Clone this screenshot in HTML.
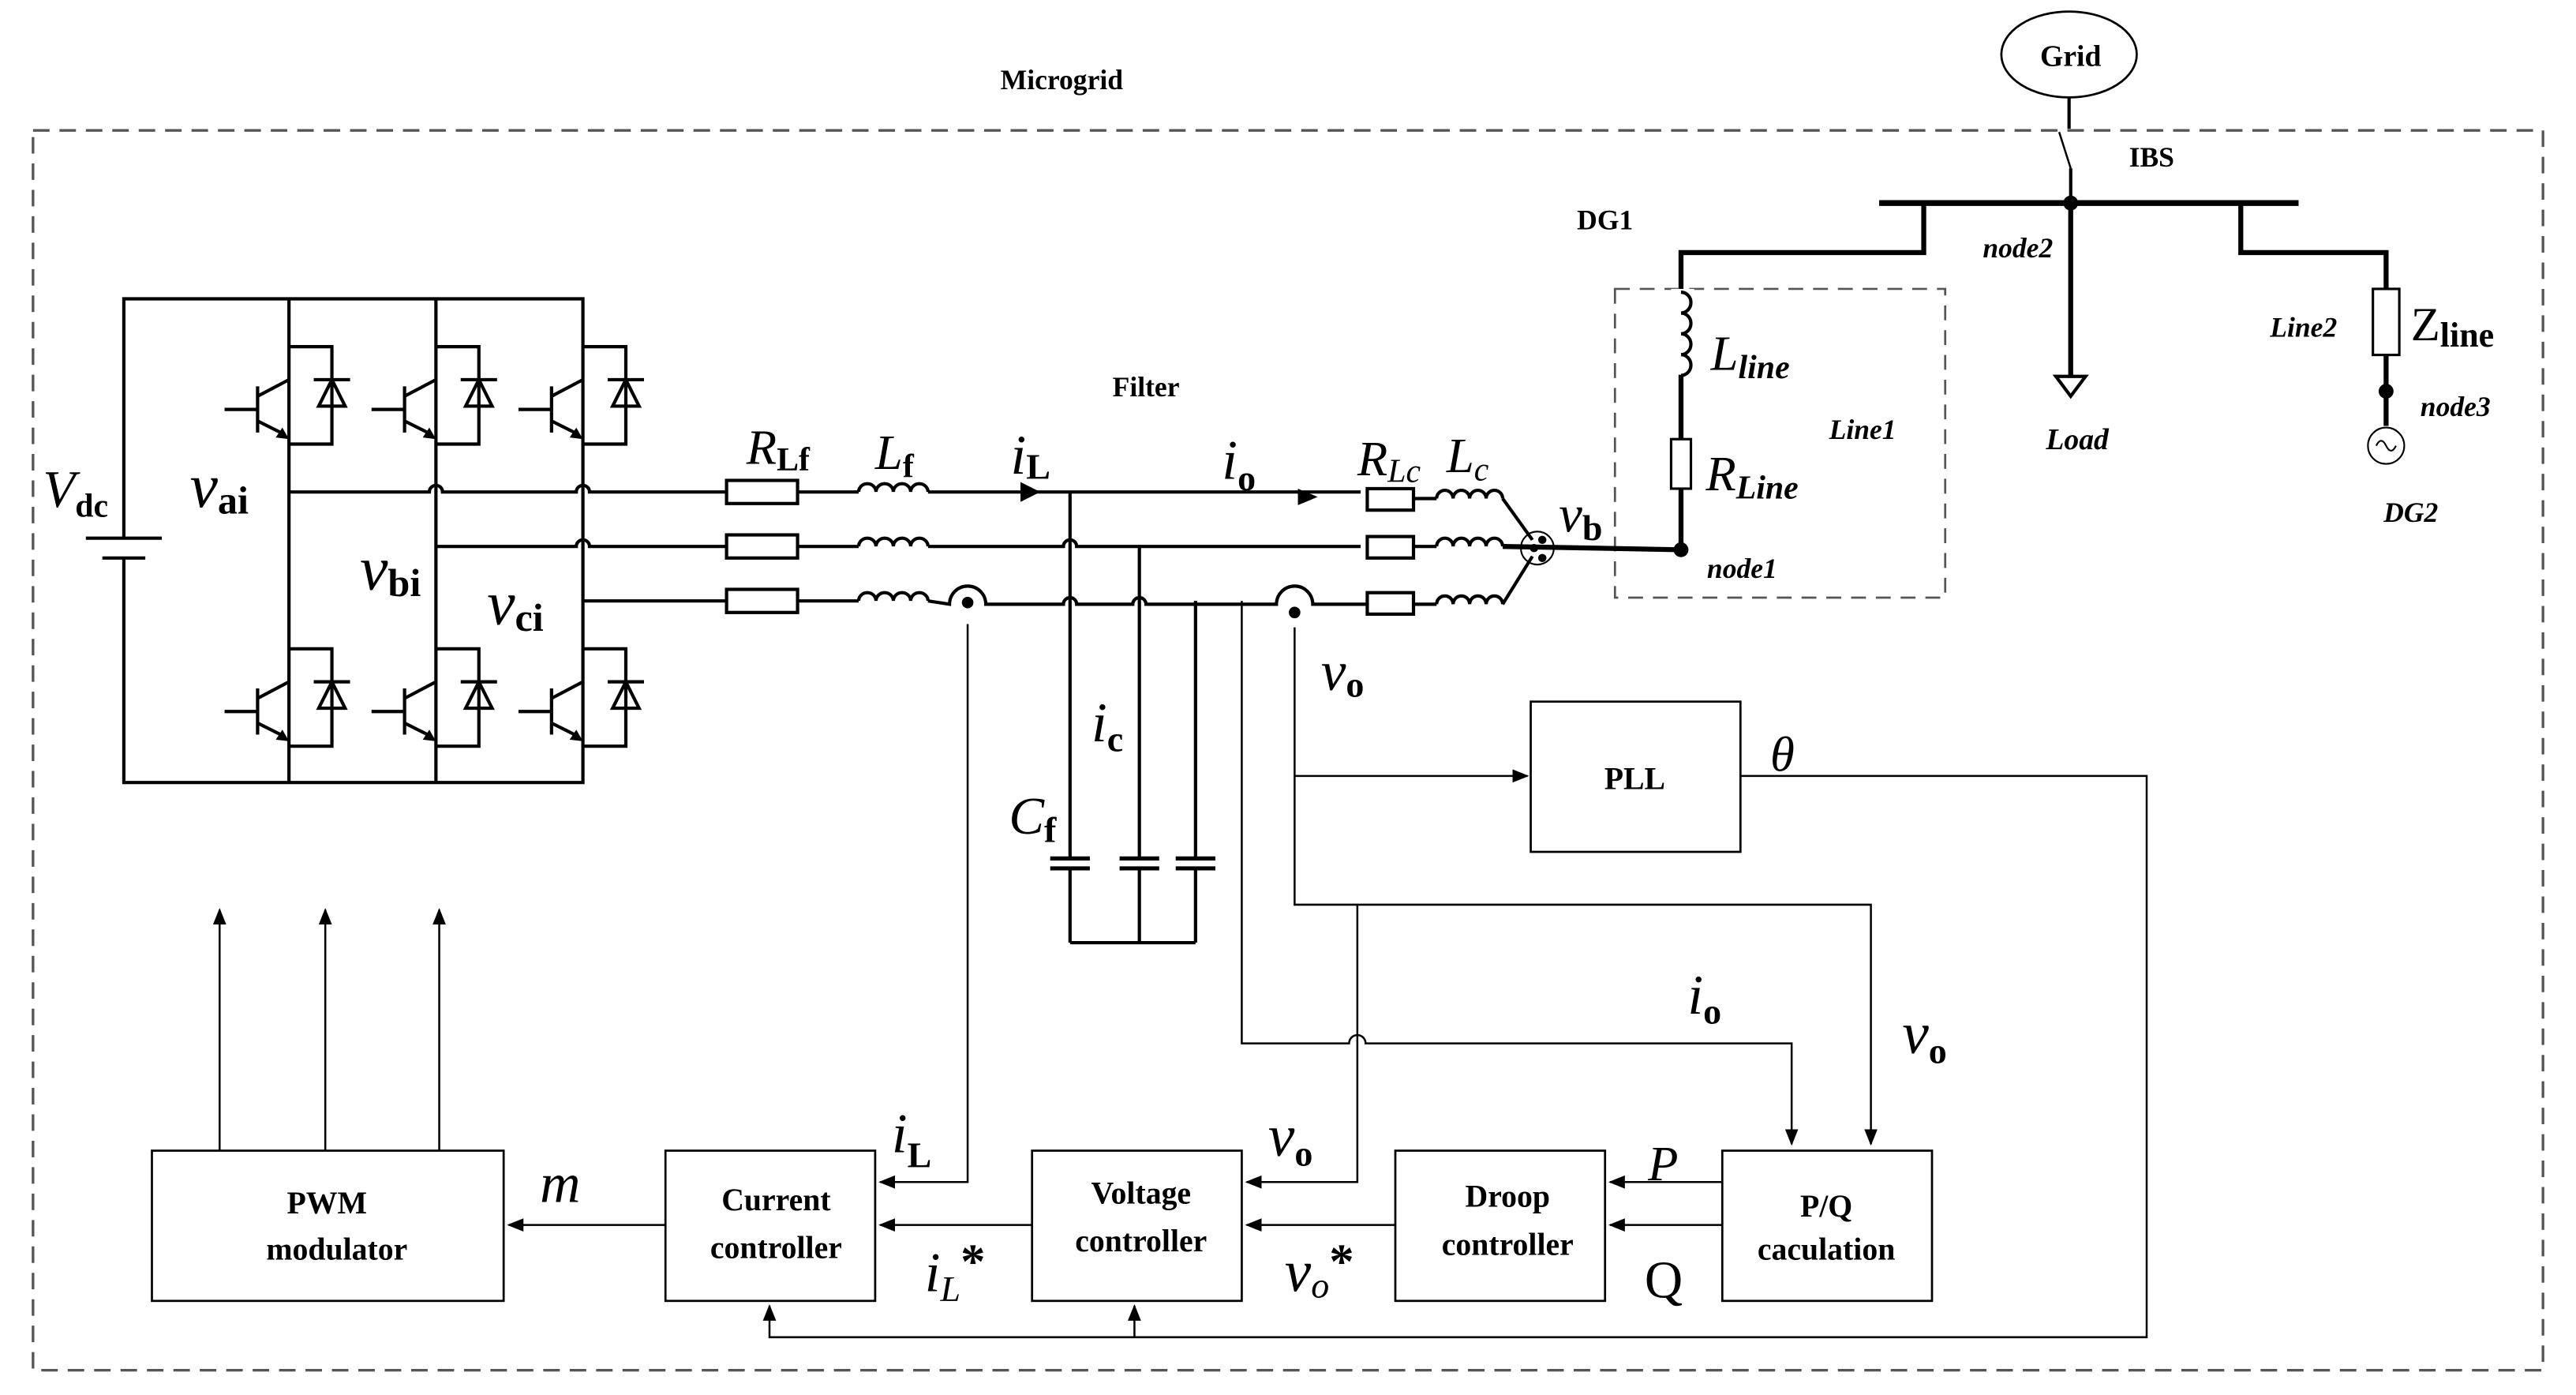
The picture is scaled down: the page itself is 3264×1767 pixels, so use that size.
<!DOCTYPE html>
<html><head><meta charset="utf-8"><style>
html,body{margin:0;padding:0;background:#fff;width:3264px;height:1767px;overflow:hidden}
svg{display:block}
text{font-family:"Liberation Serif",serif;fill:#000}
.b{font-weight:bold}
.i{font-style:italic}
</style></head><body>
<svg width="3264" height="1767" viewBox="0 0 1560 845" preserveAspectRatio="none" xmlns="http://www.w3.org/2000/svg">
<defs>
<marker id="ar" markerWidth="10" markerHeight="8" refX="9" refY="4" orient="auto" markerUnits="userSpaceOnUse"><path d="M0,0 L10,4 L0,8 Z" fill="#000"/></marker>
</defs>
<rect width="1560" height="845" fill="#fff"/>
<!-- outer dashed -->
<rect x="20" y="79" width="1520" height="751" fill="none" stroke="#555" stroke-width="1.6" stroke-dasharray="10,6"/>
<text x="643" y="54" class="b" font-size="17" text-anchor="middle">Microgrid</text>

<!-- Grid -->
<ellipse cx="1253" cy="33" rx="41" ry="26" fill="#fff" stroke="#000" stroke-width="1.3"/>
<text x="1254" y="40" class="b" font-size="18" text-anchor="middle">Grid</text>
<g stroke="#000" stroke-width="2" fill="none">
<line x1="1253" y1="59" x2="1253" y2="78"/>
<line x1="1247" y1="80" x2="1254" y2="102" stroke-width="1.2"/>
<line x1="1254" y1="102" x2="1254" y2="123"/>
<line x1="1138" y1="123" x2="1392" y2="123" stroke-width="3.5"/>
<path d="M1165,123 V153 H1018 V333" stroke-width="3"/>
<path d="M1357,123 V153 H1445 V175" stroke-width="3"/>
<line x1="1254" y1="123" x2="1254" y2="228" stroke-width="3"/>
<path d="M1445,215 V258" stroke-width="3"/>
</g>
<circle cx="1254" cy="123" r="4.5" fill="#000"/>
<path d="M1245,228 L1263,228 L1254,240 Z" fill="#fff" stroke="#000" stroke-width="2"/>
<rect x="1437" y="175" width="16" height="40" fill="#fff" stroke="#000" stroke-width="1.5"/>
<circle cx="1445" cy="237" r="4.5" fill="#000"/>
<circle cx="1445" cy="270" r="11" fill="#fff" stroke="#000" stroke-width="1"/>
<path d="M1439,270 q3,-6 6,0 t6,0" fill="none" stroke="#000" stroke-width="1"/>
<!-- Line1 dashed box -->
<rect x="978" y="175" width="200" height="187" fill="none" stroke="#555" stroke-width="1.3" stroke-dasharray="9,6"/>
<!-- Lline inductor -->
<rect x="1012" y="175" width="14" height="52" fill="#fff" stroke="none"/>
<path d="M1018,177 a6,6.3 0 0 1 0,12.6 a6,6.3 0 0 1 0,12.6 a6,6.3 0 0 1 0,12.6 a6,6.3 0 0 1 0,12.6" fill="none" stroke="#000" stroke-width="2"/>
<rect x="1012" y="266" width="12" height="30" fill="#fff" stroke="#000" stroke-width="1.5"/>
<circle cx="1018" cy="333" r="4.5" fill="#000"/>

<text x="972" y="139" class="b" font-size="17" text-anchor="middle">DG1</text>
<text x="1303" y="101" class="b" font-size="17" text-anchor="middle">IBS</text>
<text x="1222" y="156" class="b i" font-size="17" text-anchor="middle">node2</text>
<text x="1395" y="204" class="b i" font-size="17" text-anchor="middle">Line2</text>
<text x="1460" y="206" font-size="29">Z<tspan font-size="21" dy="4" class="b">line</tspan></text>
<text x="1487" y="252" class="b i" font-size="17" text-anchor="middle">node3</text>
<text x="1460" y="316" class="b i" font-size="17" text-anchor="middle">DG2</text>
<text x="1258" y="272" class="b i" font-size="18" text-anchor="middle">Load</text>
<text x="1128" y="266" class="b i" font-size="17" text-anchor="middle">Line1</text>
<text x="1036" y="224" font-size="30" class="i">L<tspan font-size="20" dy="5" class="b">line</tspan></text>
<text x="1033" y="297" font-size="30" class="i">R<tspan font-size="20" dy="5" class="b">Line</tspan></text>
<text x="1055" y="350" class="b i" font-size="17" text-anchor="middle">node1</text>
<text x="944" y="322" font-size="32" class="i">v<tspan font-size="22" dy="5" class="b" font-style="normal">b</tspan></text>

<!-- Inverter -->
<g stroke="#000" stroke-width="2" fill="none">
<path d="M75,326 V181 H353 V474 H75 V338"/>
<line x1="52" y1="326" x2="98" y2="326"/>
<line x1="62" y1="338" x2="88" y2="338"/>
<line x1="175" y1="181" x2="175" y2="474"/>
<line x1="264" y1="181" x2="264" y2="474"/>
</g>
<g id="sw" stroke="#000" stroke-width="2" fill="none">
<!-- top switch template for leg at x=175 -->
<path d="M175,210 H201 V269 H175"/>
<line x1="156" y1="234" x2="156" y2="262"/>
<line x1="136" y1="248" x2="156" y2="248"/>
<line x1="156" y1="240" x2="175" y2="230"/>
<line x1="156" y1="255" x2="172" y2="263"/>
<line x1="190" y1="230" x2="212" y2="230"/>
<path d="M201,230 L193,246 L209,246 Z"/>
</g>
<path d="M175,266 L167,265 L171,259 Z" fill="#000"/>
<use href="#sw" x="89"/><use href="#sw" x="178"/>
<use href="#sw" y="183"/><use href="#sw" x="89" y="183"/><use href="#sw" x="178" y="183"/>
<g fill="#000">
<path d="M264,266 L256,265 L260,259 Z"/><path d="M353,266 L345,265 L349,259 Z"/>
<path d="M175,449 L167,448 L171,442 Z"/><path d="M264,449 L256,448 L260,442 Z"/><path d="M353,449 L345,448 L349,442 Z"/>
</g>
<text x="26" y="307" font-size="32" class="i">V<tspan font-size="20" dy="6" class="b" font-style="normal">dc</tspan></text>
<text x="115" y="307" font-size="38" class="i">v<tspan font-size="24" dy="4" class="b" font-style="normal">ai</tspan></text>
<text x="218" y="357" font-size="38" class="i">v<tspan font-size="24" dy="4" class="b" font-style="normal">bi</tspan></text>
<text x="295" y="378" font-size="38" class="i">v<tspan font-size="24" dy="4" class="b" font-style="normal">ci</tspan></text>

<!-- phase lines -->
<g stroke="#000" stroke-width="2" fill="none">
<path d="M175,298 H260 a4,4 0 0 1 8,0 H349 a4,4 0 0 1 8,0 H440"/>
<path d="M264,331 H349 a4,4 0 0 1 8,0 H440"/>
<path d="M353,364 H440"/>
<!-- resistors Rf -->
<rect x="440" y="291" width="43" height="14" fill="#fff"/>
<rect x="440" y="324" width="43" height="14" fill="#fff"/>
<rect x="440" y="357" width="43" height="14" fill="#fff"/>
<line x1="483" y1="298" x2="520" y2="298"/>
<line x1="483" y1="331" x2="520" y2="331"/>
<line x1="483" y1="364" x2="520" y2="364"/>
<!-- inductors Lf -->
<path d="M520,298 a5.25,5 0 0 1 10.5,0 a5.25,5 0 0 1 10.5,0 a5.25,5 0 0 1 10.5,0 a5.25,5 0 0 1 10.5,0"/>
<path d="M520,331 a5.25,5 0 0 1 10.5,0 a5.25,5 0 0 1 10.5,0 a5.25,5 0 0 1 10.5,0 a5.25,5 0 0 1 10.5,0"/>
<path d="M520,364 a5.25,5 0 0 1 10.5,0 a5.25,5 0 0 1 10.5,0 a5.25,5 0 0 1 10.5,0 a5.25,5 0 0 1 10.5,0"/>
<!-- a line -->
<path d="M562,298 H824"/>
<!-- b line -->
<path d="M562,331 H644 a4,4 0 0 1 8,0 H824"/>
<!-- c line -->
<path d="M562,364 L575,366 a11,11 0 0 1 22,0 H644 a4,4 0 0 1 8,0 H686 a4,4 0 0 1 8,0 H773 a11,11 0 0 1 22,0 H828"/>
<!-- Rc -->
<rect x="828" y="296" width="28" height="13" fill="#fff"/>
<rect x="828" y="325" width="28" height="13" fill="#fff"/>
<rect x="828" y="359" width="28" height="13" fill="#fff"/>
<line x1="856" y1="302" x2="870" y2="302"/>
<line x1="856" y1="331" x2="870" y2="331"/>
<line x1="856" y1="366" x2="870" y2="366"/>
<path d="M870,302 a5,5 0 0 1 10,0 a5,5 0 0 1 10,0 a5,5 0 0 1 10,0 a5,5 0 0 1 10,0"/>
<path d="M870,331 a5,5 0 0 1 10,0 a5,5 0 0 1 10,0 a5,5 0 0 1 10,0 a5,5 0 0 1 10,0"/>
<path d="M870,366 a5,5 0 0 1 10,0 a5,5 0 0 1 10,0 a5,5 0 0 1 10,0 a5,5 0 0 1 10,0"/>
<line x1="910" y1="302" x2="928" y2="327"/>
<line x1="910" y1="366" x2="928" y2="337"/>
<line x1="910" y1="331" x2="1018" y2="333" stroke-width="3"/>
<!-- capacitor branches -->
<line x1="648" y1="298" x2="648" y2="520"/>
<line x1="690" y1="331" x2="690" y2="520"/>
<line x1="724" y1="364" x2="724" y2="520"/>
<line x1="648" y1="526" x2="648" y2="571"/>
<line x1="690" y1="526" x2="690" y2="571"/>
<line x1="724" y1="526" x2="724" y2="571"/>
<line x1="648" y1="571" x2="724" y2="571"/>
<g stroke-width="2.5">
<line x1="636" y1="520" x2="660" y2="520"/><line x1="636" y1="526" x2="660" y2="526"/>
<line x1="678" y1="520" x2="702" y2="520"/><line x1="678" y1="526" x2="702" y2="526"/>
<line x1="712" y1="520" x2="736" y2="520"/><line x1="712" y1="526" x2="736" y2="526"/>
</g>
</g>
<circle cx="931" cy="332" r="10" fill="none" stroke="#000" stroke-width="1"/>
<circle cx="934" cy="327" r="2.5" fill="#000"/><circle cx="929" cy="332" r="2.5" fill="#000"/><circle cx="934" cy="338" r="2.5" fill="#000"/>
<circle cx="586" cy="365" r="3.5" fill="#000"/>
<circle cx="784" cy="371" r="3.5" fill="#000"/>
<path d="M618,292 L630,298 L618,304 Z" fill="#000"/>
<path d="M786,296 L798,301 L786,306 Z" fill="#000"/>

<text x="452" y="281" font-size="30" class="i">R<tspan font-size="20" dy="4" class="b" font-style="normal">Lf</tspan></text>
<text x="530" y="284" font-size="30" class="i">L<tspan font-size="20" dy="5" class="b" font-style="normal">f</tspan></text>
<text x="612" y="287" font-size="34" class="i">i<tspan font-size="22" dy="3" class="b" font-style="normal">L</tspan></text>
<text x="740" y="290" font-size="34" class="i">i<tspan font-size="22" dy="7" class="b" font-style="normal">o</tspan></text>
<text x="694" y="240" class="b" font-size="17" text-anchor="middle">Filter</text>
<text x="822" y="288" font-size="30" class="i">R<tspan font-size="20" dy="4">Lc</tspan></text>
<text x="876" y="286" font-size="30" class="i">L<tspan font-size="20" dy="5">c</tspan></text>
<text x="661" y="449" font-size="34" class="i">i<tspan font-size="22" dy="6" class="b" font-style="normal">c</tspan></text>
<text x="611" y="505" font-size="32" class="i">C<tspan font-size="22" dy="5" class="b" font-style="normal">f</tspan></text>
<text x="800" y="418" font-size="34" class="i">v<tspan font-size="22" dy="4" class="b" font-style="normal">o</tspan></text>

<!-- control wiring -->
<g stroke="#000" stroke-width="1.2" fill="none">
<path d="M586,378 V716 H533" marker-end="url(#ar)"/>
<path d="M752,364 V632 H817 a5,5 0 0 1 10,0 H1085 V693" marker-end="url(#ar)"/>
<path d="M784,380 V548 H1133 V693" marker-end="url(#ar)"/>
<path d="M784,470 H925" marker-end="url(#ar)"/>
<path d="M822,548 V716 H755" marker-end="url(#ar)"/>
<path d="M1054,470 H1300 V810 H466 V791" marker-end="url(#ar)"/>
<path d="M687,810 V791" marker-end="url(#ar)"/>
<path d="M133,697 V551" marker-end="url(#ar)"/>
<path d="M197,697 V551" marker-end="url(#ar)"/>
<path d="M266,697 V551" marker-end="url(#ar)"/>
<path d="M403,742 H308" marker-end="url(#ar)"/>
<path d="M625,742 H533" marker-end="url(#ar)"/>
<path d="M845,742 H755" marker-end="url(#ar)"/>
<path d="M1043,716 H975" marker-end="url(#ar)"/>
<path d="M1043,742 H975" marker-end="url(#ar)"/>
</g>
<!-- blocks -->
<g fill="#fff" stroke="#000" stroke-width="1.3">
<rect x="927" y="425" width="127" height="91"/>
<rect x="92" y="697" width="213" height="91"/>
<rect x="403" y="697" width="127" height="91"/>
<rect x="625" y="697" width="127" height="91"/>
<rect x="845" y="697" width="127" height="91"/>
<rect x="1043" y="697" width="127" height="91"/>
</g>
<g class="b" font-size="19" text-anchor="middle">
<text x="990" y="478">PLL</text>
<text x="198" y="735">PWM</text><text x="204" y="763">modulator</text>
<text x="470" y="733">Current</text><text x="470" y="762">controller</text>
<text x="691" y="729">Voltage</text><text x="691" y="758">controller</text>
<text x="913" y="731">Droop</text><text x="913" y="760">controller</text>
<text x="1106" y="737">P/Q</text><text x="1106" y="763">caculation</text>
</g>
<text x="1072" y="467" font-size="30" class="i">θ</text>
<text x="1022" y="614" font-size="34" class="i">i<tspan font-size="22" dy="6" class="b" font-style="normal">o</tspan></text>
<text x="1152" y="638" font-size="36" class="i">v<tspan font-size="22" dy="6" class="b" font-style="normal">o</tspan></text>
<text x="540" y="698" font-size="34" class="i">i<tspan font-size="22" dy="9" class="b" font-style="normal">L</tspan></text>
<text x="768" y="700" font-size="36" class="i">v<tspan font-size="22" dy="6" class="b" font-style="normal">o</tspan></text>
<text x="327" y="728" font-size="34" class="i">m</text>
<text x="560" y="782" font-size="34" class="i">i<tspan font-size="22" dy="6">L</tspan><tspan font-size="30" dy="-14" class="b" font-style="normal">*</tspan></text>
<text x="778" y="782" font-size="36" class="i">v<tspan font-size="22" dy="4">o</tspan><tspan font-size="30" dy="-12" class="b" font-style="normal">*</tspan></text>
<text x="998" y="715" font-size="30" class="i">P</text>
<text x="996" y="786" font-size="32">Q</text>
</svg>
</body></html>
